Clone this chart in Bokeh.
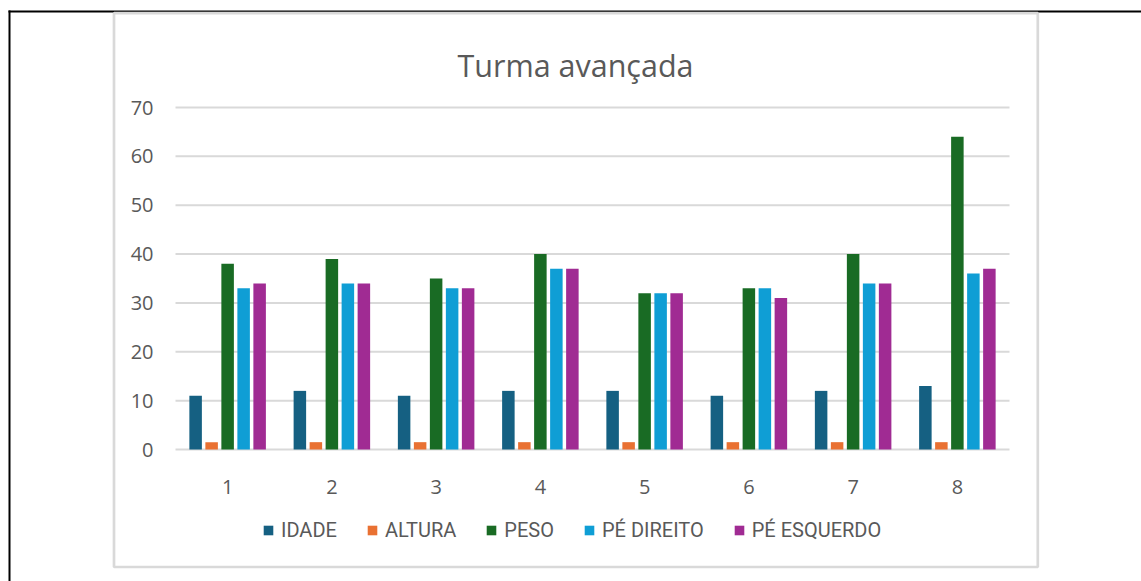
from bokeh.plotting import figure
from bokeh.models import Range1d, ColumnDataSource, Legend, LegendItem, BoxAnnotation
from bokeh.core.properties import value
from bokeh.transform import dodge
from bokeh.embed import file_html
from bokeh.resources import INLINE

title_text = "Turma avançada"
categories = ["1", "2", "3", "4", "5", "6", "7", "8"]
series_names = ["IDADE", "ALTURA", "PESO", "PÉ DIREITO", "PÉ ESQUERDO"]
idade = [11, 12, 11, 12, 12, 11, 12, 13]
altura = [1.5, 1.5, 1.5, 1.5, 1.5, 1.5, 1.5, 1.5]
peso = [38, 39, 35, 40, 32, 33, 40, 64]
pe_direito = [33, 34, 33, 37, 32, 33, 34, 36]
pe_esquerdo = [34, 34, 33, 37, 32, 31, 34, 37]
y_ticks = [0, 10, 20, 30, 40, 50, 60, 70]

colors = ["#156082", "#E97132", "#196B24", "#0F9ED5", "#A02B93"]
TEXT = "#595959"
GRID = "#d9d9d9"

# ---- layout (canvas pixels) ----
W, H = 1141, 581
PX_L, PX_R = 175, 1009      # plot area left / right
PY_T, PY_B = 107, 449       # plot area top (max tick) / bottom (0)
n = len(categories)
ppu_x = (PX_R - PX_L) / n
ppu_y = (PY_B - PY_T) / y_ticks[-1]


def xd(px):
    return 0.5 + (px - PX_L) / ppu_x


def yd(py):
    return (PY_B - py) / ppu_y


xs = [i + 1 for i in range(n)]
source = ColumnDataSource(dict(x=xs, cat=categories, s0=idade, s1=altura, s2=peso,
                               s3=pe_direito, s4=pe_esquerdo))

p = figure(width=W, height=H, x_range=Range1d(xd(0), xd(W)), y_range=Range1d(yd(H), yd(0)),
           output_backend="svg", toolbar_location=None, min_border=0,
           x_axis_type=None, y_axis_type=None)
p.outline_line_color = None
p.grid.visible = False
p.background_fill_color = "white"
p.border_fill_color = "white"

# page frames
p.add_layout(BoxAnnotation(left=xd(8), right=xd(W), top=yd(10), bottom=yd(12),
                           fill_color="black", fill_alpha=1, line_color=None))
p.add_layout(BoxAnnotation(left=xd(8), right=xd(10), top=yd(10), bottom=yd(H),
                           fill_color="black", fill_alpha=1, line_color=None))
p.add_layout(BoxAnnotation(left=xd(113.5), right=xd(1037.3), top=yd(12.7), bottom=yd(566.5),
                           fill_alpha=0, line_color=GRID, line_width=2.7, line_alpha=1))

# gridlines
p.segment(x0=0.5, x1=n + 0.5, y0=y_ticks, y1=y_ticks, line_color=GRID, line_width=2)

# bars
step = 0.1535
offsets = [-2 * step, -step, 0, step, 2 * step]
items = []
for i, (name, color) in enumerate(zip(series_names, colors)):
    r = p.vbar(x=dodge("x", offsets[i]), top="s%d" % i, width=0.12,
               source=source, fill_color=color, line_color=None)
    items.append(LegendItem(label=name, renderers=[r]))

# axis labels
p.text(x=[xd(153)] * len(y_ticks), y=y_ticks, text=[str(t) for t in y_ticks],
       text_align="right", text_baseline="middle", text_color=TEXT,
       text_font=value("Open Sans"), text_font_size=value("20px"))
p.text(x="x", y=yd(486), text="cat", source=source,
       text_align="center", text_baseline="alphabetic", text_color=TEXT,
       text_font=value("Open Sans"), text_font_size=value("20px"))

# title
p.text(x=[xd(575)], y=[yd(64)], text=[title_text], text_align="center", text_baseline="alphabetic",
       text_color=TEXT, text_font=value("Open Sans"), text_font_size=value("30.5px"))

legend = Legend(items=items, orientation="horizontal", location=(262, 39))
legend.label_text_font = "Roboto"
legend.label_text_font_size = "20px"
legend.label_text_color = TEXT
legend.glyph_width = 12
legend.glyph_height = 12
legend.label_height = 24
legend.label_standoff = 7
legend.spacing = 29
legend.padding = 0
legend.margin = 0
legend.border_line_color = None
legend.background_fill_alpha = 0
p.add_layout(legend)

open("out.html", "w").write(file_html(p, INLINE))
